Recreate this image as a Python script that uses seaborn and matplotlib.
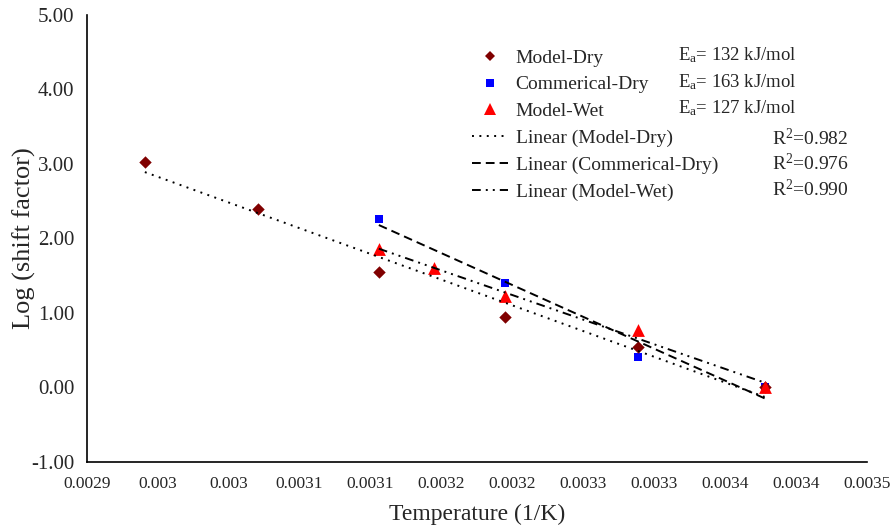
import matplotlib
matplotlib.use("Agg")
import numpy as np
import pandas as pd
import matplotlib.pyplot as plt
from matplotlib.lines import Line2D
from matplotlib.ticker import MultipleLocator, FixedLocator, FuncFormatter
import seaborn as sns

# Inverse temperature (1/K) and log of the time-temperature shift factor
inv_temp_model_dry = [0.002941, 0.003021, 0.003106, 0.003195, 0.003289, 0.003378]
log_at_model_dry = [3.03, 2.40, 1.55, 0.95, 0.54, 0.00]

inv_temp_comm_dry = [0.003106, 0.003195, 0.003289, 0.003378]
log_at_comm_dry = [2.26, 1.40, 0.40, 0.00]

inv_temp_model_wet = [0.003106, 0.003145, 0.003195, 0.003289, 0.003378]
log_at_model_wet = [1.86, 1.60, 1.22, 0.77, 0.00]

series_names = ["Model-Dry", "Commerical-Dry", "Model-Wet"]
activation_energy = ["132", "163", "127"]  # kJ/mol
r_squared = ["0.982", "0.976", "0.990"]

x_tick_values = [0.0029, 0.00295, 0.0030, 0.00305, 0.0031, 0.00315,
                 0.0032, 0.00325, 0.0033, 0.00335, 0.0034, 0.00345]
x_tick_labels = ["0.0029", "0.003", "0.003", "0.0031", "0.0031", "0.0032",
                 "0.0032", "0.0033", "0.0033", "0.0034", "0.0034", "0.0035"]

sns.set_style("white")
plt.rcParams["font.family"] = ["Liberation Serif", "DejaVu Serif"]
plt.rcParams["mathtext.fontset"] = "custom"
plt.rcParams["mathtext.rm"] = "Liberation Serif"
plt.rcParams["mathtext.it"] = "Liberation Serif:italic"

W, H = 893, 525
fig = plt.figure(figsize=(W / 100, H / 100), dpi=100)
ax = fig.add_axes([86.7 / W, 1 - 461.7 / H, 780 / W, 446.7 / H])

frames = []
for name, xs, ys in zip(series_names,
                        [inv_temp_model_dry, inv_temp_comm_dry, inv_temp_model_wet],
                        [log_at_model_dry, log_at_comm_dry, log_at_model_wet]):
    frames.append(pd.DataFrame({"inv_T": xs, "log_aT": ys, "series": name}))
df = pd.concat(frames, ignore_index=True)

styles = {
    "Model-Dry": dict(color="#800000", marker="D", s=40, legend_ms=5.5),
    "Commerical-Dry": dict(color="#0000FF", marker="s", s=36, legend_ms=5.5),
    "Model-Wet": dict(color="#FF0000", marker="^", s=85, legend_ms=8),
}
trend_dashes = {
    "Model-Dry": (1, 2.8),
    "Commerical-Dry": (4.5, 2.6),
    "Model-Wet": (4.5, 2.6, 1, 2.6, 1, 2.6),
}
line_w = 1.4

# scatter points, wet series last so it sits on top at the shared reference point
for name in ["Commerical-Dry", "Model-Dry", "Model-Wet"]:
    sub = df[df["series"] == name]
    st = styles[name]
    sns.scatterplot(data=sub, x="inv_T", y="log_aT", ax=ax, color=st["color"],
                    marker=st["marker"], s=st["s"], linewidth=0, zorder=3, legend=False)

# linear trendlines over each series' own range
for name in series_names:
    sub = df[df["series"] == name]
    sns.regplot(data=sub, x="inv_T", y="log_aT", ax=ax, scatter=False, ci=None,
                truncate=True, color="black",
                line_kws=dict(lw=line_w, dashes=trend_dashes[name], zorder=4,
                              dash_capstyle="butt"))

ax.set_xlim(0.0029, 0.00345)
ax.set_ylim(-1, 5)
ax.xaxis.set_major_locator(FixedLocator(x_tick_values))
ax.set_xticklabels(x_tick_labels)
ax.xaxis.set_minor_locator(MultipleLocator(0.00001))
ax.yaxis.set_major_locator(MultipleLocator(1))
ax.yaxis.set_minor_locator(MultipleLocator(0.2))
ax.yaxis.set_major_formatter(FuncFormatter(lambda v, p: f"{v:.2f}"))

ax.tick_params(which="both", direction="in", color="black", width=1.0)
ax.tick_params(axis="x", which="major", length=7, labelsize=12.5, pad=10)
ax.tick_params(axis="x", which="minor", length=4.5)
ax.tick_params(axis="y", which="both", length=5, labelsize=15, pad=9)

for side in ["top", "right"]:
    ax.spines[side].set_visible(False)
for side in ["left", "bottom"]:
    ax.spines[side].set_color("black")
    ax.spines[side].set_linewidth(1.2)

ax.set_xlabel("Temperature (1/K)", fontsize=17, labelpad=9)
ax.set_ylabel("Log (shift factor)", fontsize=19)
ax.yaxis.set_label_coords(-0.065, 0.5)
ax.grid(False)

# legend: point series then their trendlines
handles = []
labels = []
for name in series_names:
    st = styles[name]
    handles.append(Line2D([], [], linestyle="none", marker=st["marker"], color=st["color"],
                          markersize=st["legend_ms"], markeredgewidth=0))
    labels.append(name)
for name in series_names:
    handles.append(Line2D([], [], color="black", lw=line_w, dashes=trend_dashes[name]))
    labels.append(f"Linear ({name})")

leg = ax.legend(handles, labels, loc="upper left",
                bbox_to_anchor=(472 / W, 1 - 49 / H), bbox_transform=fig.transFigure,
                frameon=False, fontsize=14, handlelength=1.85, handletextpad=0.4,
                labelspacing=0.47, borderpad=0, borderaxespad=0)

# activation energies and fit quality beside the legend
row_y = [55, 82, 108, 138, 163, 189]
for i, ea in enumerate(activation_energy):
    fig.text(678 / W, 1 - row_y[i] / H, r"E$_{\mathrm{a}}$= " + ea + " kJ/mol",
             fontsize=13.5, va="center", ha="left")
for i, r2 in enumerate(r_squared):
    fig.text(772 / W, 1 - row_y[3 + i] / H, r"R$^{\mathrm{2}}$=" + r2,
             fontsize=14, va="center", ha="left")

fig.savefig("out.png", dpi=100)
